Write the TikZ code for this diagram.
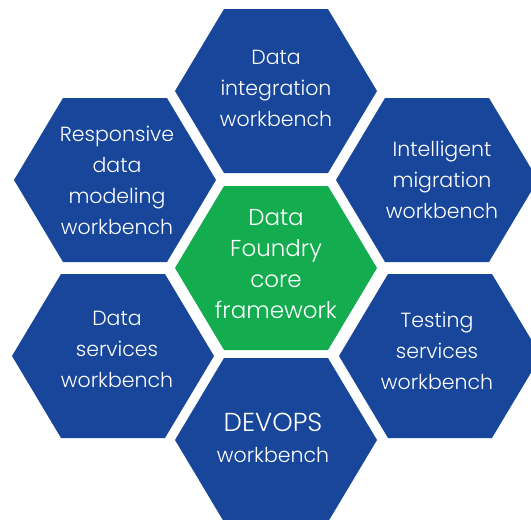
\documentclass[tikz,border=0pt]{standalone}
\usepackage{fontspec}
\setmainfont{Poppins}[UprightFont={* Light}]
\definecolor{hexblue}{RGB}{24,70,154}
\definecolor{hexgreen}{RGB}{19,173,79}
\tikzset{
  hexagon/.pic={\fill (-101,0) -- (-52,-82) -- (52,-82) -- (101,0) -- (52,82) -- (-52,82) -- cycle;},
  lbl/.style={text=white, align=center, inner sep=0pt, font=\fontsize{20.5}{31}\selectfont},
  corelbl/.style={lbl, font=\fontsize{23}{31}\selectfont}
}
\begin{document}
\begin{tikzpicture}[x=1pt,y=-1pt]
\useasboundingbox (0,0) rectangle (531,520);
\clip (0,0) rectangle (531,520);
\pic[fill=hexblue] at (276,91) {hexagon};
\pic[fill=hexgreen] at (276,268) {hexagon};
\pic[fill=hexblue] at (115,180) {hexagon};
\pic[fill=hexblue] at (437,180) {hexagon};
\pic[fill=hexblue] at (113,356) {hexagon};
\pic[fill=hexblue] at (440,356) {hexagon};
\pic[fill=hexblue] at (276,440) {hexagon};
\node[lbl] (integ) at (276,88) {Data\\integration\\workbench};
\node[corelbl] (core) at (276,264) {Data\\Foundry\\core\\framework};
\node[lbl] (resp) at (117,180) {Responsive\\data\\modeling\\workbench};
\node[lbl] (intel) at (442,180) {Intelligent\\migration\\workbench};
\node[lbl] (dserv) at (117,349) {Data\\services\\workbench};
\node[lbl] (test) at (437,351) {Testing\\services\\workbench};
\node[lbl] (devops) at (273,438) {{\fontsize{26}{31}\selectfont DEVOPS}\\workbench};
\end{tikzpicture}
\end{document}
